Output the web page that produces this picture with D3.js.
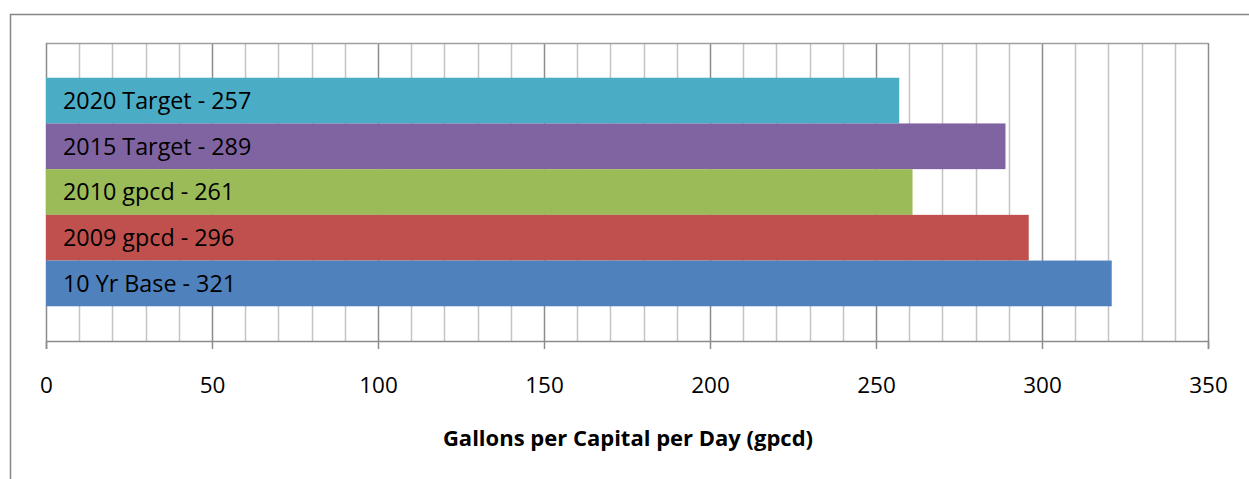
<!DOCTYPE html>
<html>
<head>
<meta charset="utf-8">
<script src="https://cdn.jsdelivr.net/npm/d3@7"></script>
<style>
  body { margin: 0; background: #fff; }
  text { font-family: "Open Sans", sans-serif; }
</style>
</head>
<body>
<script>
// Chart data
const seriesNames = ["2020 Target", "2015 Target", "2010 gpcd", "2009 gpcd", "10 Yr Base"];
const seriesValues = [257, 289, 261, 296, 321];
const seriesColors = ["#4BACC6", "#8064A2", "#9BBB59", "#C0504D", "#4F81BD"];
const xTicks = [0, 50, 100, 150, 200, 250, 300, 350];
const xTitle = "Gallons per Capital per Day (gpcd)";

const W = 1249, H = 479;
const margin = {top: 43, left: 46, right: W - 1208, bottom: H - 341};
const width = W - margin.left - margin.right;
const height = H - margin.top - margin.bottom;

const svg = d3.select("body").append("svg")
    .attr("width", W)
    .attr("height", H);

// outer chart border
svg.append("rect")
    .attr("x", 10.5).attr("y", 14.5)
    .attr("width", W + 10).attr("height", H + 10)
    .attr("fill", "none")
    .attr("stroke", "#868686")
    .attr("stroke-width", 1.5);

const g = svg.append("g")
    .attr("transform", `translate(${margin.left}, ${margin.top})`);

const x = d3.scaleLinear().domain([0, 350]).range([0, width]);
const y = d3.scaleBand()
    .domain(seriesNames)
    .range([0, height])
    .paddingInner(0)
    .paddingOuter(0.76);

// minor gridlines every 10
g.append("g").selectAll("line")
  .data(d3.range(10, 350, 10).filter(d => d % 50 !== 0))
  .join("line")
    .attr("x1", d => Math.round(x(d)) + 0.5).attr("x2", d => Math.round(x(d)) + 0.5)
    .attr("y1", 0).attr("y2", height)
    .attr("stroke", "#c4c4c4").attr("stroke-width", 1.5);

// major gridlines every 50
g.append("g").selectAll("line")
  .data(xTicks.slice(1))
  .join("line")
    .attr("x1", d => Math.round(x(d)) + 0.5).attr("x2", d => Math.round(x(d)) + 0.5)
    .attr("y1", 0).attr("y2", height)
    .attr("stroke", "#8c8c8c").attr("stroke-width", 1.5);

// top border of plot area
g.append("line")
    .attr("x1", 0).attr("x2", width)
    .attr("y1", 0.5).attr("y2", 0.5)
    .attr("stroke", "#a0a0a0").attr("stroke-width", 1.5);

// left axis line
g.append("line")
    .attr("x1", 0.5).attr("x2", 0.5)
    .attr("y1", 0).attr("y2", height)
    .attr("stroke", "#8c8c8c").attr("stroke-width", 1.5);

// bars
g.append("g").selectAll("rect")
  .data(seriesNames)
  .join("rect")
    .attr("x", 0)
    .attr("y", d => y(d))
    .attr("width", (d, i) => x(seriesValues[i]))
    .attr("height", y.bandwidth())
    .attr("fill", (d, i) => seriesColors[i]);

// bar labels
g.append("g").selectAll("text")
  .data(seriesNames)
  .join("text")
    .attr("x", 17)
    .attr("y", d => y(d) + y.bandwidth() / 2)
    .attr("dy", "0.36em")
    .attr("font-size", 23.3)
    .attr("fill", "#000")
    .text((d, i) => `${d} - ${seriesValues[i]}`);

// x axis
const xAxis = g.append("g")
    .attr("transform", `translate(0, ${height})`)
    .call(d3.axisBottom(x).tickValues(xTicks).tickSize(8).tickPadding(28));
xAxis.select(".domain").attr("stroke", "#8c8c8c").attr("stroke-width", 1.5);
xAxis.selectAll(".tick line").attr("stroke", "#8c8c8c").attr("stroke-width", 1.5);
xAxis.selectAll(".tick text")
    .attr("font-size", 22.5)
    .attr("fill", "#000")
    .style("font-family", "'Open Sans', sans-serif");

// x axis title
g.append("text")
    .attr("x", x(175) + 1)
    .attr("y", height + 105)
    .attr("text-anchor", "middle")
    .attr("font-size", 22)
    .attr("font-weight", "bold")
    .attr("fill", "#000")
    .text(xTitle);
</script>
</body>
</html>
